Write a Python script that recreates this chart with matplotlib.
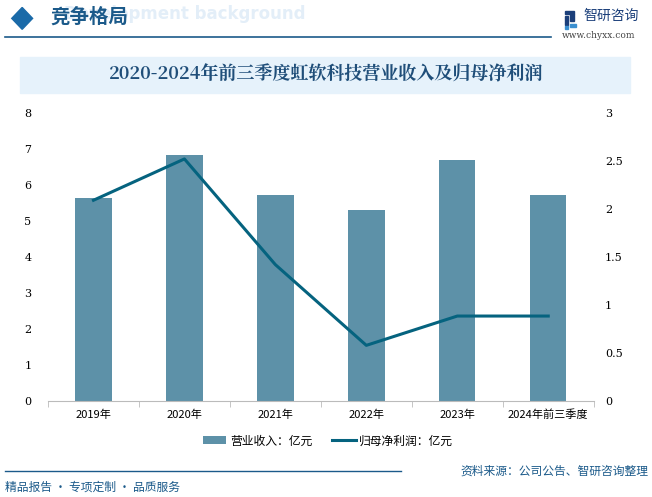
import matplotlib.pyplot as plt
from matplotlib.patches import Rectangle, Polygon
from matplotlib.lines import Line2D

plt.rcParams['font.family'] = ['Noto Sans CJK SC', 'DejaVu Sans']

# data
years = ["2019年", "2020年", "2021年", "2022年", "2023年", "2024年前三季度"]
revenue = [5.64, 6.83, 5.72, 5.31, 6.69, 5.72]
net_profit = [2.09, 2.52, 1.42, 0.58, 0.885, 0.885]

bar_color = "#5d91a8"
line_color = "#05637f"
dark_blue = "#1b5a8a"

fig = plt.figure(figsize=(6.52, 4.97), dpi=100)

# header
fig.patches.append(Polygon([[0.018, 0.963], [0.034, 0.985], [0.050, 0.963], [0.034, 0.941]],
                           closed=True, transform=fig.transFigure, color="#1a6aa8"))
fig.text(0.098, 0.972, "Development background", fontsize=12, color="#e3eef8",
         fontweight="bold", va="center", family="DejaVu Sans")
fig.text(0.077, 0.965, "竞争格局", fontsize=14, color=dark_blue, fontweight="bold", va="center")
fig.add_artist(Line2D([0.008, 0.845], [0.926, 0.926], color=dark_blue, lw=1.2))
# small logo mark
for (lx, ly, w, h, c) in [(0.866, 0.972, 0.014, 0.006, "#1b3f7a"),
                          (0.874, 0.958, 0.006, 0.014, "#1b3f7a"),
                          (0.866, 0.950, 0.005, 0.018, "#1b3f7a"),
                          (0.874, 0.946, 0.010, 0.006, "#3a8fd0"),
                          (0.866, 0.942, 0.005, 0.006, "#3a8fd0")]:
    fig.patches.append(Rectangle((lx, ly), w, h, transform=fig.transFigure, color=c))
fig.text(0.895, 0.968, "智研咨询", fontsize=10, color="#1b3f7a", va="center")
fig.text(0.862, 0.928, "www.chyxx.com", fontsize=6.5, color="#444444", va="center", family="DejaVu Serif")

# title box
fig.patches.append(Rectangle((0.031, 0.813), 0.935, 0.073, transform=fig.transFigure,
                             color="#e6f2fb", zorder=0))
fig.text(0.5, 0.849, "2020-2024年前三季度虹软科技营业收入及归母净利润", fontsize=13,
         color="#1f4e79", fontweight="bold", ha="center", va="center",
         family=["Noto Serif CJK SC", "Noto Sans CJK SC", "DejaVu Sans"])

# chart
ax = fig.add_axes([0.0736, 0.193, 0.837, 0.580])
x = list(range(len(years)))
ax.bar(x, revenue, width=0.4, color=bar_color, label="营业收入：亿元", zorder=2)
ax.set_xlim(-0.5, 5.5)
ax.set_ylim(0, 8)
ax.set_yticks(range(0, 9))
ax.set_xticks(x)
ax.set_xticklabels(years, fontsize=8)
ax.set_xticks([i + 0.5 for i in range(-1, 6)], minor=True)
ax.tick_params(axis="x", which="major", length=0, pad=6)
ax.tick_params(axis="x", which="minor", length=4, color="#bbbbbb")
ax.tick_params(axis="y", length=0, labelsize=8, pad=12)
for lab in ax.get_yticklabels():
    lab.set_family("DejaVu Serif")
for s in ["top", "right", "left"]:
    ax.spines[s].set_visible(False)
ax.spines["bottom"].set_color("#bbbbbb")

ax2 = ax.twinx()
ax2.plot(x, net_profit, color=line_color, lw=2.2, label="归母净利润：亿元", zorder=3)
ax2.set_ylim(0, 3)
ax2.set_yticks([0, 0.5, 1, 1.5, 2, 2.5, 3])
ax2.set_yticklabels(["0", "0.5", "1", "1.5", "2", "2.5", "3"])
ax2.tick_params(axis="y", length=0, labelsize=8, pad=8)
for lab in ax2.get_yticklabels():
    lab.set_family("DejaVu Serif")
for s in ["top", "right", "left", "bottom"]:
    ax2.spines[s].set_visible(False)

h1, l1 = ax.get_legend_handles_labels()
h2, l2 = ax2.get_legend_handles_labels()
fig.legend(h1 + h2, l1 + l2, loc="center", bbox_to_anchor=(0.503, 0.113), ncol=2,
           frameon=False, fontsize=8.5, handlelength=2.0, handleheight=0.6,
           handletextpad=0.3, columnspacing=1.7)

# footer
fig.add_artist(Line2D([0.008, 0.615], [0.052, 0.052], color=dark_blue, lw=1.0))
fig.text(0.008, 0.02, "精品报告 · 专项定制 · 品质服务", fontsize=8.5, color=dark_blue, va="center")
fig.text(0.995, 0.052, "资料来源：公司公告、智研咨询整理", fontsize=8.5, color=dark_blue,
         va="center", ha="right")

fig.savefig("out.png", dpi=100)
